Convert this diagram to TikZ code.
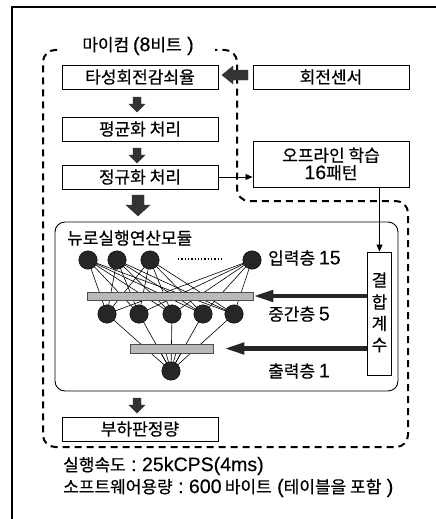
\documentclass[tikz,border=0pt]{standalone}
\usepackage{fontspec}
\setmainfont{Noto Sans CJK KR}[FakeBold=0.5]
\newfontfamily\lat{Liberation Sans}[FakeBold=0.3,Scale=1.15]
\usetikzlibrary{arrows.meta}
\begin{document}
\begin{tikzpicture}[x=1pt,y=-1pt,
  txt/.style={font=\fontsize{17}{18.5}\selectfont, inner sep=0pt},
  pbox/.style={draw, line width=0.9pt, minimum width=156pt, minimum height=24pt, inner sep=0pt, font=\fontsize{17}{18.5}\selectfont},
  neuron/.style={circle, fill=black!85, draw=black, minimum size=18.5pt, inner sep=0pt},
  bar/.style={draw=black!70, fill=gray!55, line width=0.6pt},
  blk/.style={fill=black!80, draw=black!80},
  fatarrow/.style={line width=4.5pt, black!85, -{Triangle[length=20pt,width=11pt]}},
  thinarrow/.style={line width=0.8pt, -{Triangle[length=7pt,width=6pt]}},
  wire/.style={line width=0.6pt},
  dashline/.style={dashed, line width=2pt, dash pattern=on 7pt off 5pt}
]
\useasboundingbox (0,0) rectangle (436,519);
% outer frame
\draw[line width=1.2pt] (12,519) -- (12,7) -- (436,7);

% dashed micom outline
\draw[dashline, rounded corners=12pt] (57,50) -| (43,447) -| (408,201) -| (237,50) -- (215,50);
\node[txt] (micom) at (138,46) {마이컴 {\lat (8}비트{\lat\ )}};

% boxes
\node[pbox] (b1) at (140,77) {타성회전감쇠율};
\node[pbox] (sens) at (331,77) {회전센서};
\node[pbox] (b2) at (140,129) {평균화 처리};
\node[pbox] (b3) at (140,177) {정규화 처리};
\node[pbox, minimum height=46pt, align=center] (off) at (331,164) {오프라인 학습\\[-1pt]{\lat 16}패턴};
\node[pbox] (b4) at (140,429) {부하판정량};

% module
\node[draw, line width=0.9pt, rounded corners=10pt, minimum width=343pt, minimum height=169pt, inner sep=0pt] (mod) at (226.5,306.5) {};
\node[txt, anchor=west] (modlbl) at (67,238) {뉴로실행연산모듈};

% coupling coefficient box
\node[draw, line width=0.9pt, minimum width=24pt, minimum height=123pt, inner sep=0pt] (coef) at (379.5,313.5) {};
\node[txt] (c1) at (379.5,280) {결};
\node[txt] (c2) at (379.5,302) {합};
\node[txt] (c3) at (379.5,323.5) {계};
\node[txt] (c4) at (379.5,345) {수};

% block arrows
\fill[blk] (133,97) -- (141,97) -- (141,104) -- (145,104) -- (137,112) -- (129,104) -- (133,104) -- cycle;
\fill[blk] (133,148) -- (141,148) -- (141,155) -- (145,155) -- (137,163) -- (129,155) -- (133,155) -- cycle;
\fill[blk] (132,195) -- (144,195) -- (144,205) -- (150,205) -- (138,216) -- (126,205) -- (132,205) -- cycle;
\fill[blk] (133,398) -- (141,398) -- (141,405) -- (145,405) -- (137,413) -- (129,405) -- (133,405) -- cycle;
\fill[blk] (222,75) -- (233,66) -- (233,70) -- (248,70) -- (248,80) -- (233,80) -- (233,84) -- cycle;

% thin arrows
\draw[thinarrow] (b3.east) -- (off.west |- b3.east);
\draw[thinarrow] (off.south -| coef.north) -- (coef.north);

% network
\foreach \n/\x in {i1/88, i2/117, i3/150, i4/252} \coordinate (\n) at (\x,260);
\foreach \n/\x in {h1/107, h2/139, h3/172, h4/203, h5/234} \coordinate (\n) at (\x,314);
\coordinate (o1) at (171,371);
\foreach \a in {i1,i2,i3,i4} \foreach \b in {h1,h2,h3,h4,h5} \draw[wire] (\a) -- (\b);
\foreach \b in {h1,h2,h3,h4,h5} \draw[wire] (\b) -- (o1);
\foreach \dx in {-10,-5,5,10} \draw[wire] (171+\dx,353) -- (o1);
\node[bar, minimum width=166pt, minimum height=8pt, inner sep=0pt] (hbar) at (170,296) {};
\node[bar, minimum width=83pt, minimum height=9pt, inner sep=0pt] (obar) at (171.5,348.5) {};
\foreach \n in {i1,i2,i3,i4,h1,h2,h3,h4,h5,o1} \node[neuron] (N\n) at (\n) {};
\draw[dotted, line width=1.3pt] (178,259) -- (222,259);
\node[txt, anchor=west] (lin) at (268,258) {입력층 {\lat 15}};
\node[txt, anchor=west] (lhid) at (268,314) {중간층 {\lat 5}};
\node[txt, anchor=west] (lout) at (268,371) {출력층 {\lat 1}};

% fat arrows from coefficients
\draw[fatarrow] (coef.west |- hbar.east) -- (hbar.east);
\draw[fatarrow] (coef.west |- obar.east) -- ([xshift=11pt]obar.east);

% bottom texts
\node[txt, anchor=west] (t1) at (63,466) {실행속도{\lat\ :\ 25kCPS(4ms)}};
\node[txt, anchor=west] (t2) at (63,488) {소프트웨어용량{\lat\ :\ 600\,}바이트{\lat\ (}테이블을 포함{\lat\ )}};
\end{tikzpicture}
\end{document}
